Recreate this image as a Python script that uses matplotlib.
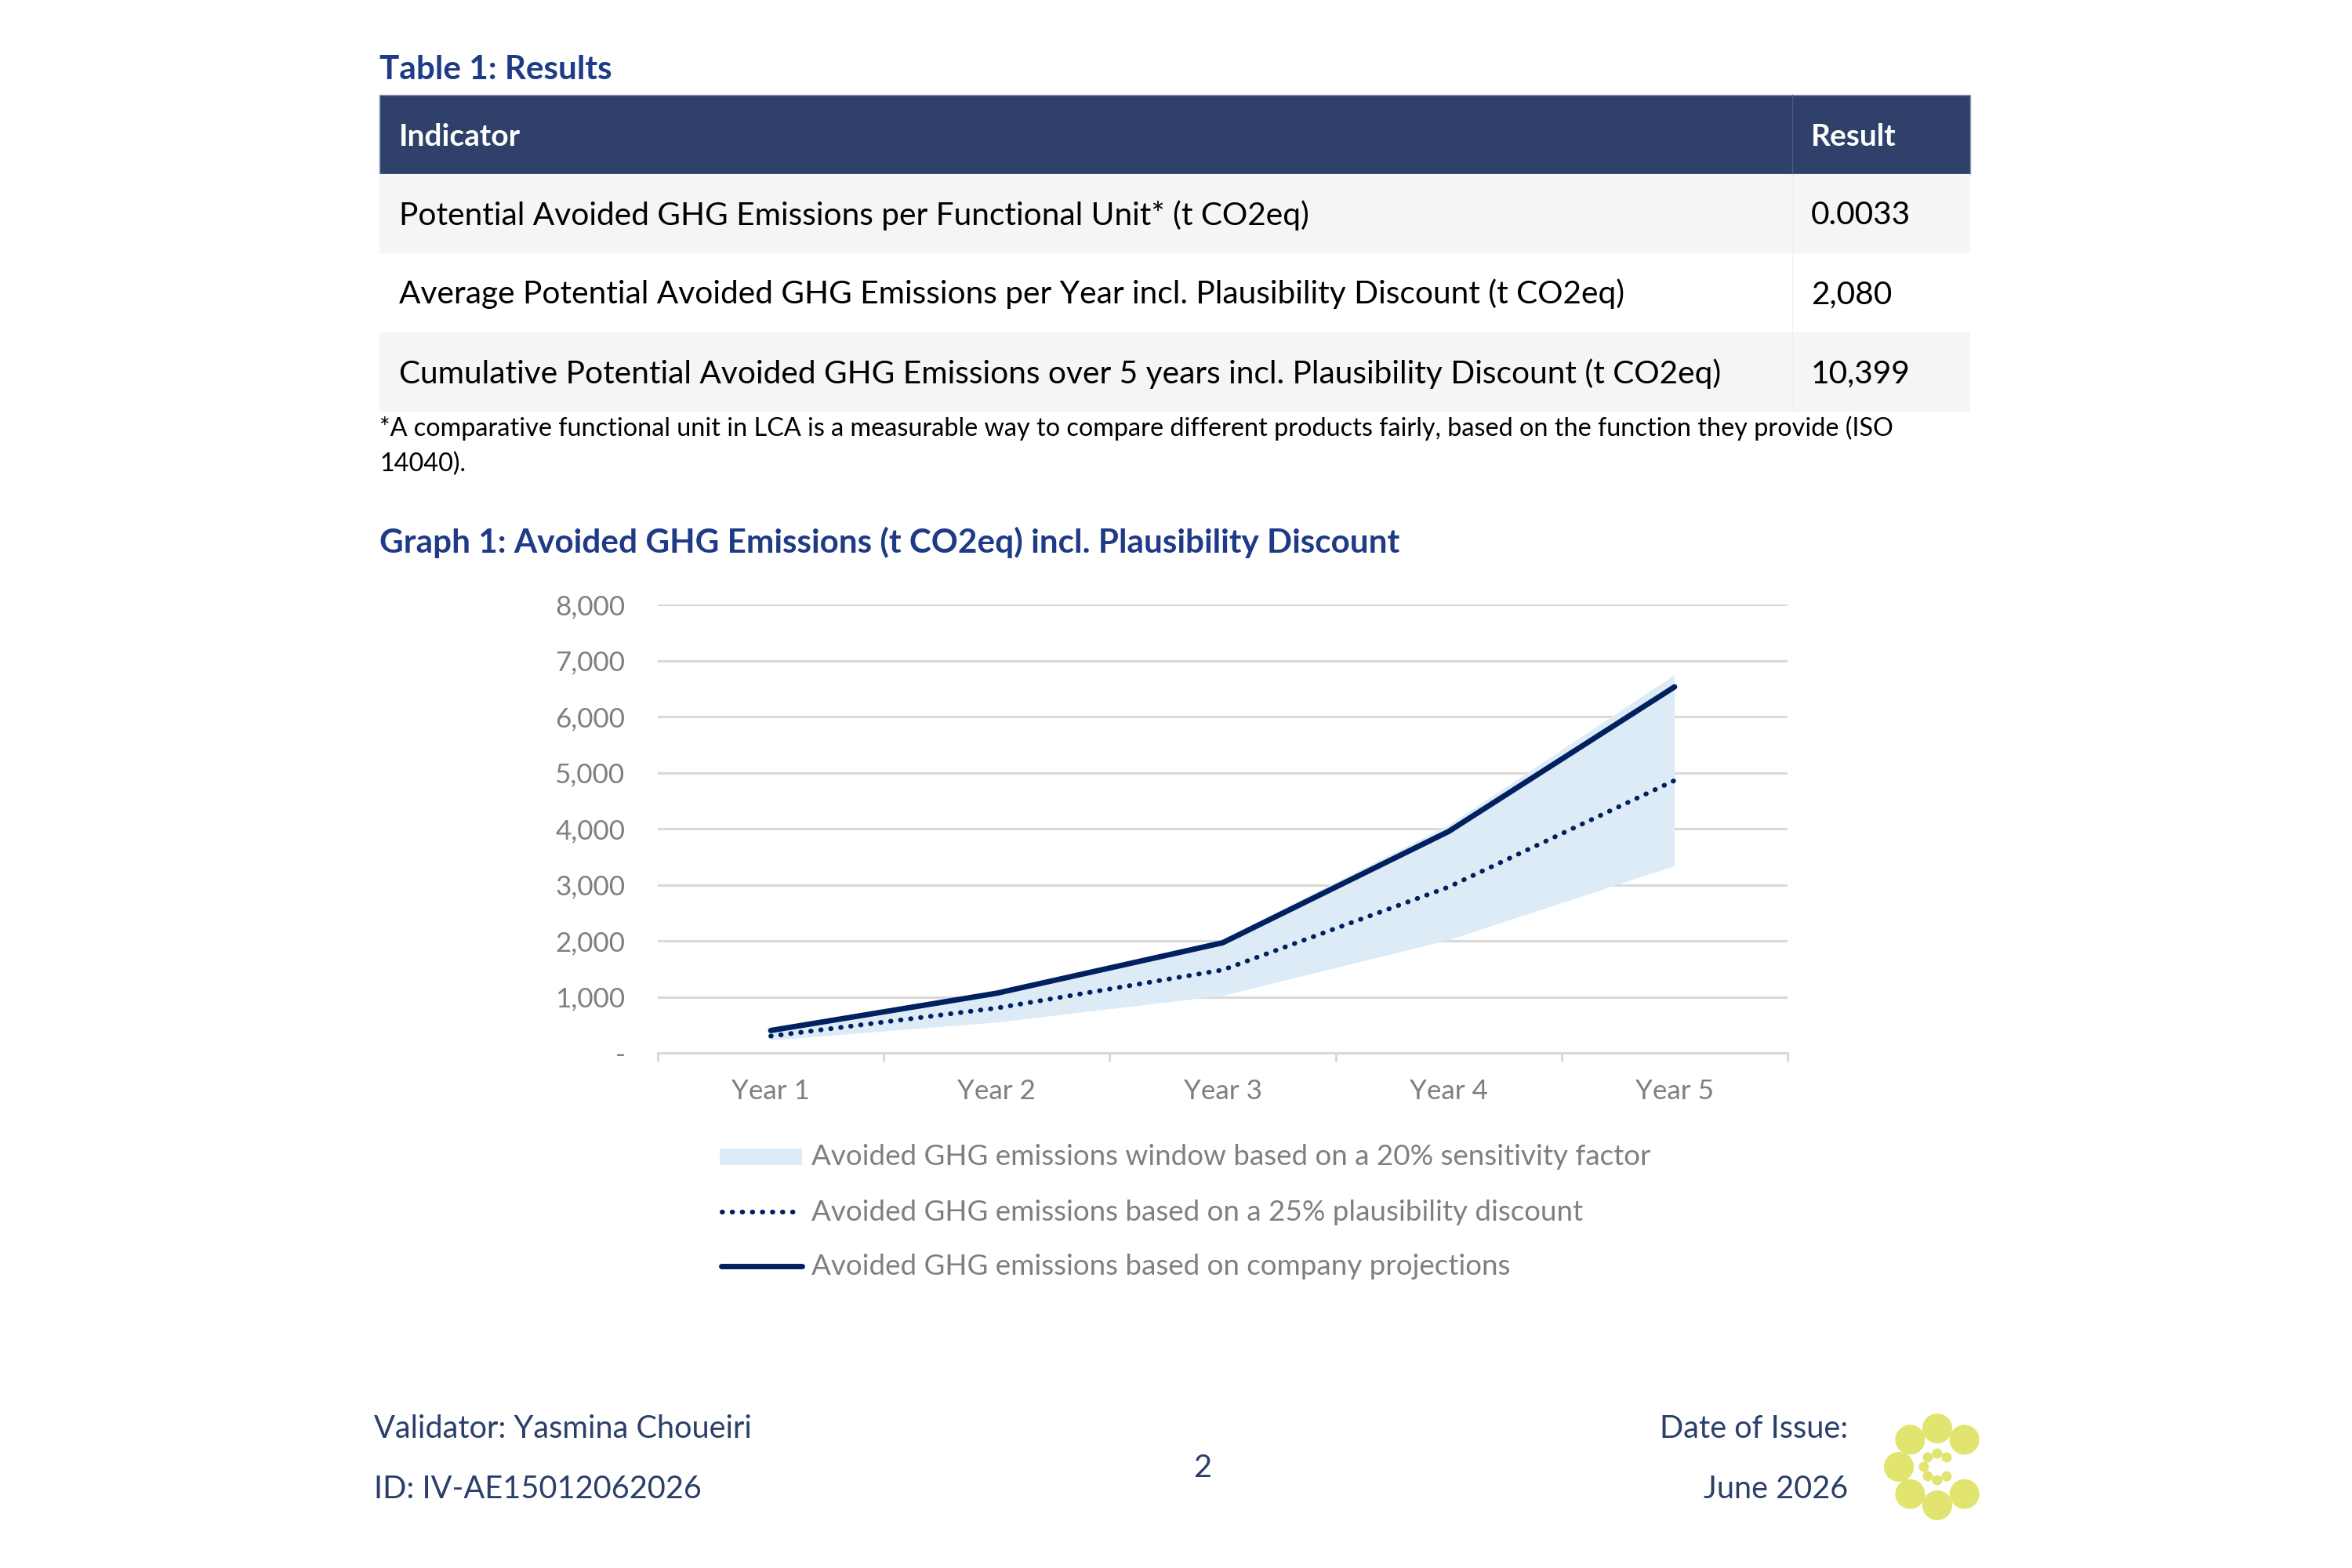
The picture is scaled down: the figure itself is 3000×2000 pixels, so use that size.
import matplotlib
matplotlib.use('Agg')
import matplotlib.pyplot as plt
from matplotlib.patches import Rectangle, Circle
from matplotlib.lines import Line2D
from matplotlib.ticker import FuncFormatter
import numpy as np

plt.rcParams['font.family'] = ['Lato', 'DejaVu Sans']

# ---------------------------------------------------------------------------
# data
# ---------------------------------------------------------------------------
years = ['Year 1', 'Year 2', 'Year 3', 'Year 4', 'Year 5']
company = [400, 1065, 1965, 3950, 6530]          # company projections
discounted = [300, 800, 1480, 2960, 4860]        # 25% plausibility discount
band_low = [230, 550, 1025, 2020, 3340]          # 20% sensitivity window
band_high = [415, 1095, 2030, 4070, 6750]
y_ticks = [0, 1000, 2000, 3000, 4000, 5000, 6000, 7000, 8000]

table_header = ['Indicator', 'Result']
table_labels = [
    'Potential Avoided GHG Emissions per Functional Unit* (t CO2eq)',
    'Average Potential Avoided GHG Emissions per Year incl. Plausibility Discount (t CO2eq)',
    'Cumulative Potential Avoided GHG Emissions over 5 years incl. Plausibility Discount (t CO2eq)',
]
table_values = ['0.0033', '2,080', '10,399']
footnote = ['*A comparative functional unit in LCA is a measurable way to compare different products fairly, '
            'based on the function they provide (ISO', '14040).']
legend_labels = ['Avoided GHG emissions window based on a 20% sensitivity factor',
                 'Avoided GHG emissions based on a 25% plausibility discount',
                 'Avoided GHG emissions based on company projections']

# colours
TITLE = '#1F3B87'
HEAD = '#2F416B'
NAVY = '#002060'
BAND = '#DDEBF7'
GRID = '#D9D9D9'
GREY = '#7F7F7F'
FOOT = '#2B3F6B'
LOGO = '#E1E46E'

W, H = 3000, 2000
fig = plt.figure(figsize=(15, 10), dpi=200)
page = fig.add_axes([0, 0, 1, 1])
page.set_xlim(0, W)
page.set_ylim(H, 0)
page.axis('off')
renderer = fig.canvas.get_renderer()


def fit_size(text, width, **kw):
    # font size (pt) that makes `text` span `width` pixels
    t = page.text(0, 0, text, fontsize=20, **kw)
    w = t.get_window_extent(renderer).width
    t.remove()
    return 20 * width / w


fs_title = fit_size('Graph 1: Avoided GHG Emissions (t CO2eq) incl. Plausibility Discount', 1303, fontweight='bold')
fs_body = fit_size(table_labels[2], 1689)
fs_head = fit_size('Indicator', 155, fontweight='bold')
fs_note = fit_size(footnote[0], 1932)
fs_leg = fit_size(legend_labels[0], 1071)
fs_tick = fit_size('8,000', 89)
fs_foot = (fit_size('Validator: Yasmina Choueiri', 502) + fit_size('ID: IV-AE15012062026', 402)) / 2

# ---------------------------------------------------------------------------
# table
# ---------------------------------------------------------------------------
tx0, tx1, tdiv = 484, 2513, 2286
row_h = 101
top = 121
page.text(tx0, 101, 'Table 1: Results', fontsize=fs_title, fontweight='bold', color=TITLE)

page.add_patch(Rectangle((tx0, top), tx1 - tx0, row_h, facecolor=HEAD, edgecolor='#8A9AB8', lw=0.5))
page.plot([tdiv, tdiv], [top, top + row_h], color='#4A5A82', lw=0.5)
page.text(509, top + row_h / 2 + 14, table_header[0], fontsize=fs_head, fontweight='bold', color='white')
page.text(2310, top + row_h / 2 + 14, table_header[1], fontsize=fs_head, fontweight='bold', color='white')

for i, (lab, val) in enumerate(zip(table_labels, table_values)):
    y0 = top + row_h * (i + 1)
    face = '#F5F5F5' if i % 2 == 0 else 'white'
    page.add_patch(Rectangle((tx0, y0), tx1 - tx0, row_h, facecolor=face, edgecolor='none'))
    page.plot([tdiv, tdiv], [y0, y0 + row_h], color='#F0F0F0', lw=0.4)
    page.text(509, y0 + row_h / 2 + 14, lab, fontsize=fs_body, color='black')
    page.text(2310, y0 + row_h / 2 + 14, val, fontsize=fs_body, color='black')

page.text(484, 556, footnote[0], fontsize=fs_note, color='black')
page.text(484, 601, footnote[1], fontsize=fs_note, color='black')

page.text(484, 705, 'Graph 1: Avoided GHG Emissions (t CO2eq) incl. Plausibility Discount',
          fontsize=fs_title, fontweight='bold', color=TITLE)

# ---------------------------------------------------------------------------
# chart
# ---------------------------------------------------------------------------
ax_l, ax_r, ax_t, ax_b = 839, 2280, 771, 1343
ax = fig.add_axes([ax_l / W, 1 - ax_b / H, (ax_r - ax_l) / W, (ax_b - ax_t) / H])
x = np.arange(len(years))
ax.fill_between(x, band_low, band_high, color=BAND, lw=0, zorder=2)
ax.plot(x, discounted, color=NAVY, lw=2.2, linestyle=(0, (0.1, 2.0)),
        dash_capstyle='round', zorder=3)
ax.plot(x, company, color=NAVY, lw=2.5, solid_capstyle='round', zorder=4)

ax.set_xlim(-0.5, len(years) - 0.5)
ax.set_ylim(0, 8000)
ax.set_yticks(y_ticks)
ax.yaxis.set_major_formatter(FuncFormatter(lambda v, p: '-' if v == 0 else f'{v:,.0f}'))
ax.set_xticks(x)
ax.set_xticklabels(years)
ax.set_xticks(np.arange(-0.5, len(years)), minor=True)
ax.yaxis.grid(True, color=GRID, lw=1.1)
ax.set_axisbelow(True)
for s in ['top', 'right', 'left']:
    ax.spines[s].set_visible(False)
ax.spines['bottom'].set_color(GRID)
ax.spines['bottom'].set_linewidth(1.1)
ax.tick_params(axis='y', length=0, pad=15, labelsize=fs_tick, labelcolor=GREY)
ax.tick_params(axis='x', which='major', length=0, pad=12, labelsize=fs_tick, labelcolor=GREY)
ax.tick_params(axis='x', which='minor', length=4, width=1.1, color=GRID)
ax.set_facecolor('none')

# legend, drawn below the chart
leg_y = [1475, 1546, 1615]
page.add_patch(Rectangle((918, leg_y[0] - 10.5), 105, 21, facecolor=BAND, edgecolor='none'))
page.add_line(Line2D([921, 1022], [leg_y[1]] * 2, color=NAVY, lw=2.2, linestyle=(0, (0.1, 2.0)),
                     dash_capstyle='round'))
page.add_line(Line2D([920, 1023], [leg_y[2]] * 2, color=NAVY, lw=2.5, solid_capstyle='round'))
for yy, lab in zip(leg_y, legend_labels):
    page.text(1035, yy + 11, lab, fontsize=fs_leg, color=GREY)

# ---------------------------------------------------------------------------
# footer
# ---------------------------------------------------------------------------
page.text(477, 1834, 'Validator: Yasmina Choueiri', fontsize=fs_foot, color=FOOT)
page.text(477, 1911, 'ID: IV-AE15012062026', fontsize=fs_foot, color=FOOT)
page.text(1534, 1884, '2', fontsize=fs_foot, color=FOOT, ha='center')
page.text(2357, 1834, 'Date of Issue:', fontsize=fs_foot, color=FOOT, ha='right')
page.text(2357, 1911, 'June 2026', fontsize=fs_foot, color=FOOT, ha='right')

# logo: two open rings of dots
cx, cy = 2471, 1871
for ang in np.deg2rad([45, 90, 135, 180, 225, 270, 315]):
    page.add_patch(Circle((cx + 49 * np.cos(ang), cy - 49 * np.sin(ang)), 19, color=LOGO, lw=0))
    page.add_patch(Circle((cx + 17 * np.cos(ang), cy - 17 * np.sin(ang)), 6.5, color=LOGO, lw=0))

fig.savefig('out.png', dpi=200, facecolor='white')
